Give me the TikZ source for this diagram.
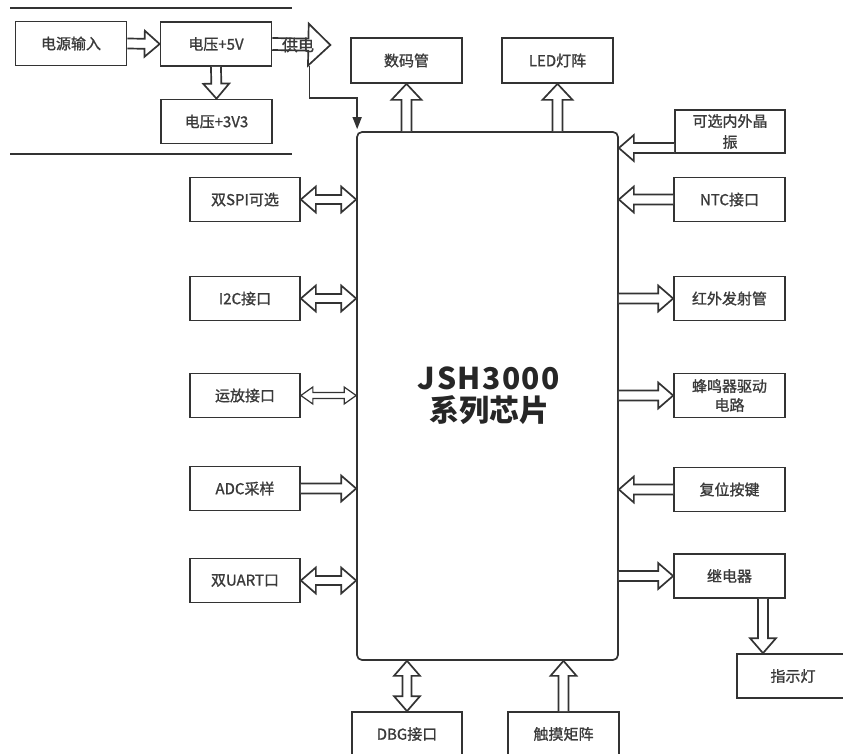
\documentclass[tikz,border=0pt]{standalone}
\usepackage{fontspec}
\setmainfont{Noto Sans CJK SC}
\newfontfamily\boxfont[FakeBold=1.2]{Noto Sans CJK SC}
\usetikzlibrary{calc,arrows.meta}

\definecolor{linec}{HTML}{333333}
\definecolor{textc}{HTML}{3A3A3A}

\tikzset{
  box/.style={draw=linec, line width=1.7pt, minimum width=111pt, minimum height=44pt,
    inner sep=0pt, text=textc, align=center, font=\boxfont\fontsize{15}{18}\selectfont},
  chipbox/.style={draw=linec, line width=1.7pt, rounded corners=5pt,
    minimum width=261pt, minimum height=528pt},
  arr/.style={draw=linec, line width=1.7pt, fill=white, line join=miter},
  thinarr/.style={arr, line width=1.2pt},
  feed/.style={draw=linec, line width=1.5pt, -{Triangle[length=12pt,width=9pt]}},
  rule/.style={draw=linec, line width=1.7pt},
}

% hollow block arrow: style, from, to, shaft half width, head half width, head length
\newcommand{\onearrow}[6][arr]{%
  \coordinate (ta) at #2; \coordinate (tb) at #3;
  \coordinate (th) at ($(tb)!#6!(ta)$);
  \draw[#1] ($(ta)!#4!90:(tb)$) -- ($(th)!#4!-90:(ta)$) -- ($(th)!#5!-90:(ta)$) -- (tb)
    -- ($(th)!#5!90:(ta)$) -- ($(th)!#4!90:(ta)$) -- ($(ta)!#4!-90:(tb)$);
}
\newcommand{\twoarrow}[6][arr]{%
  \coordinate (ta) at #2; \coordinate (tb) at #3;
  \coordinate (th) at ($(tb)!#6!(ta)$); \coordinate (tg) at ($(ta)!#6!(tb)$);
  \draw[#1] (ta) -- ($(tg)!#5!90:(tb)$) -- ($(tg)!#4!90:(tb)$) -- ($(th)!#4!-90:(ta)$)
    -- ($(th)!#5!-90:(ta)$) -- (tb) -- ($(th)!#5!90:(ta)$) -- ($(th)!#4!90:(ta)$)
    -- ($(tg)!#4!-90:(tb)$) -- ($(tg)!#5!-90:(tb)$) -- cycle;
}
\newcommand{\oarr}[2]{\onearrow{#1}{#2}{5pt}{13pt}{15pt}}
\newcommand{\tarr}[2]{\twoarrow{#1}{#2}{4.5pt}{13pt}{15pt}}

\begin{document}
\begin{tikzpicture}[x=1pt,y=-1pt]
  \useasboundingbox (0,0) rectangle (843,753);

  % Power section
  \draw[rule] (10,8) -- (292,8);
  \draw[rule] (10,154) -- (292,154);
  \node[box] (src) at (71,43.5) {电源输入};
  \node[box] (v5) at (216,44) {电压+5V};
  \node[box] (v33) at (216.5,121.5) {电压+3V3};
  \oarr{(src.east)}{(v5.west)}
  \oarr{(v5.south)}{(v33.north)}

  % Chip
  \node[chipbox] (chip) at (487.5,396) {};
  \node[text=black!85, align=center, font=\fontsize{30}{32}\selectfont\bfseries] (title)
    at (489,396) {\addfontfeature{LetterSpace=5}JSH3000\\系列芯片};

  % Supply to chip
  \coordinate (feedtip) at ($(v5.east)+(58,1)$);
  \onearrow{(v5.east)}{(feedtip)}{6pt}{21pt}{22pt}
  \node[text=textc, font=\boxfont\fontsize{16}{18}\selectfont] (feedlabel) at (298,45) {供电};
  \coordinate (feedcorner) at ($(feedtip)+(-21,21)$);
  \draw[feed] (feedcorner) |- ($(chip.north west)+(1,-33)$) -- ($(chip.north west)+(1,-2)$);

  % Top outputs
  \node[box, minimum height=45pt] (smg) at (406.5,60.5) {数码管};
  \node[box, minimum height=45pt] (led) at (557.5,60.5) {LED灯阵};
  \onearrow{(smg.south |- chip.north)}{(smg.south)}{5pt}{15pt}{16pt}
  \onearrow{(led.south |- chip.north)}{(led.south)}{5pt}{15pt}{16pt}

  % Left side
  \node[box, minimum width=110pt] (spi) at (245,199.5) {双SPI可选};
  \node[box, minimum width=110pt] (i2c) at (245,298.5) {I2C接口};
  \node[box, minimum width=110pt] (opa) at (245,395.5) {运放接口};
  \node[box, minimum width=110pt] (adc) at (245,488.5) {ADC采样};
  \node[box, minimum width=110pt] (uart) at (245,580.5) {双UART口};
  \tarr{(spi.east)}{(chip.west |- spi.east)}
  \tarr{(i2c.east)}{(chip.west |- i2c.east)}
  \twoarrow[thinarr]{(opa.east)}{(chip.west |- opa.east)}{3pt}{8.5pt}{12pt}
  \oarr{(adc.east)}{(chip.west |- adc.east)}
  \tarr{(uart.east)}{(chip.west |- uart.east)}

  % Right side
  \node[box, minimum width=110pt, minimum height=43pt, font=\boxfont\fontsize{15}{21}\selectfont]
    (osc) at (730,131.5) {可选内外晶\\振};
  \node[box] (ntc) at (729.5,199.5) {NTC接口};
  \node[box] (ir) at (729.5,298.5) {红外发射管};
  \node[box, font=\boxfont\fontsize{15}{19}\selectfont] (buz) at (729.5,395.5) {蜂鸣器驱动\\电路};
  \node[box] (rst) at (729.5,489.5) {复位按键};
  \node[box] (relay) at (729.5,576) {继电器};
  \node[box, minimum width=112pt] (lamp) at (793,676) {指示灯};
  \coordinate (oscout) at ($(osc.west)+(0,16.5)$);
  \coordinate (relayout) at ($(relay.south)+(33.5,0)$);
  \oarr{(oscout)}{(chip.east |- oscout)}
  \oarr{(ntc.west)}{(chip.east |- ntc.west)}
  \oarr{(chip.east |- ir.west)}{(ir.west)}
  \oarr{(chip.east |- buz.west)}{(buz.west)}
  \oarr{(rst.west)}{(chip.east |- rst.west)}
  \oarr{(chip.east |- relay.west)}{(relay.west)}
  \oarr{(relayout)}{(relayout |- lamp.north)}

  % Bottom
  \node[box, minimum width=110pt] (dbg) at (407,734) {DBG接口};
  \node[box] (touch) at (563.5,734) {触摸矩阵};
  \tarr{(dbg.north |- chip.south)}{(dbg.north)}
  \oarr{(touch.north)}{(touch.north |- chip.south)}
\end{tikzpicture}
\end{document}
